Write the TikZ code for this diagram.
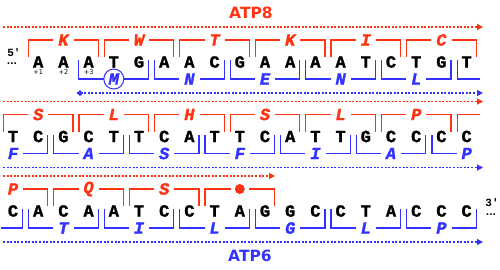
\documentclass[tikz,border=0pt]{standalone}
\usepackage{fontspec}
\setmainfont{Liberation Serif}
\setmonofont{Liberation Mono}
\setsansfont{DejaVu Sans}
\newfontfamily\seqfont[BoldFeatures={FakeBold=1.6},BoldItalicFeatures={FakeBold=1.6}]{Liberation Mono}
\usetikzlibrary{arrows.meta}
\definecolor{atpred}{HTML}{FF3311}
\definecolor{atpblue}{HTML}{3333FF}
\tikzset{
  nt/.style={font=\seqfont\bfseries\fontsize{17}{17}\selectfont, inner sep=0pt},
  aa8/.style={font=\seqfont\bfseries\itshape\fontsize{17}{17}\selectfont, text=atpred, fill=white, inner xsep=5pt, inner ysep=1pt},
  aa6/.style={font=\seqfont\bfseries\itshape\fontsize{17}{17}\selectfont, text=atpblue, fill=white, inner xsep=5pt, inner ysep=1pt},
  br8/.style={draw=atpred, line width=1.2pt},
  br6/.style={draw=atpblue, line width=1.2pt},
  orf8/.style={draw=atpred, line width=1.2pt, dash pattern=on 2pt off 1.6pt, -{Triangle[length=6pt,width=6pt]}},
  orf6/.style={draw=atpblue, line width=1.2pt, dash pattern=on 2pt off 1.6pt, -{Triangle[length=6pt,width=6pt]}},
  gene/.style={font=\sffamily\bfseries\fontsize{15.5}{15.5}\selectfont, inner sep=0pt},
  endlbl/.style={font=\ttfamily\bfseries\fontsize{11}{11}\selectfont, inner sep=0pt},
  enddots/.style={font=\sffamily\bfseries\fontsize{9}{9}\selectfont, inner sep=0pt},
  ntpos/.style={font=\sffamily\fontsize{6.5}{6.5}\selectfont, inner sep=0pt},
}
\begin{document}
\begin{tikzpicture}[x=1pt,y=-1pt]
  \useasboundingbox (0,0) rectangle (500,269);
  \node[gene, text=atpred] (atp8) at (251,13) {ATP8};
  \node[gene, text=atpblue] (atp6) at (250,256) {ATP6};

  % row 1
  \begin{scope}[yshift=-62pt]
    \draw[orf8] (3,-35) -- (483,-35);
    \draw[orf6] (77,31) -- (483,31);
    \fill[atpblue] (77,31) -- (80,28) -- (83,31) -- (80,34) -- cycle;
    \node[endlbl] (five) at (14,-9) {5'};
    \node[enddots] (fivedots) at (12,2) {...};
    \foreach \b [count=\i from 1] in {A,A,A,T,G,A,A,C,G,A,A,A,A,T,C,T,G,T}
      \node[nt] (r1c\i) at ({13+25.2*\i},0) {\b};
    \foreach \i in {1,2,3}
      \node[ntpos] (p\i) at ({13+25.2*\i},10.5) {+\i};
    % ATP8 codons
    \foreach \a/\l in {1/K,4/W,7/T,10/K,13/I,16/C} {
      \pgfmathsetmacro\xl{13+25.2*(\a-0.5)+3}
      \pgfmathsetmacro\xr{13+25.2*(\a+2.5)-3}
      \draw[br8] (\xl,-5) |- (\xr,-22) -- (\xr,-5);
      \node[aa8] (k1-\a) at ({13+25.2*(\a+1)},-22) {\l};
    }
    % ATP6 codons
    \foreach \a/\l in {6/N,9/E,12/N,15/L} {
      \pgfmathsetmacro\xl{13+25.2*(\a-0.5)+3}
      \pgfmathsetmacro\xr{13+25.2*(\a+2.5)-3}
      \draw[br6] (\xl,-2) |- (\xr,17) -- (\xr,-2);
      \node[aa6] (s1-\a) at ({13+25.2*(\a+1)},17) {\l};
    }
    \draw[br6] (78.8,-2) |- (148.6,17) -- (148.6,-2);
    \node[aa6, draw=atpblue, circle, line width=1pt, minimum size=20pt, inner sep=0pt] (met) at (113.8,17) {M};
    \draw[br6] (457.2,-2) |- (480,17);
  \end{scope}

  % row 2
  \begin{scope}[yshift=-136.5pt]
    \draw[orf8] (3,-35) -- (483,-35);
    \draw[orf6] (3,31) -- (483,31);
    \foreach \b [count=\i from 0] in {T,C,G,C,T,T,C,A,T,T,C,A,T,T,G,C,C,C,C}
      \node[nt] (r2c\i) at ({13+25.2*\i},0) {\b};
    % ATP8 codons
    \foreach \a/\l in {0/S,3/L,6/H,9/S,12/L,15/P} {
      \pgfmathsetmacro\xl{13+25.2*(\a-0.5)+3}
      \pgfmathsetmacro\xr{13+25.2*(\a+2.5)-3}
      \draw[br8] (\xl,-5) |- (\xr,-22) -- (\xr,-5);
      \node[aa8] (k2-\a) at ({13+25.2*(\a+1)},-22) {\l};
    }
    \draw[br8] (457.2,-5) |- (480,-22);
    % ATP6 codons
    \draw[br6] (13,17) -| (47.8,-2);
    \node[aa6] (s2-f) at (13,17) {F};
    \foreach \a/\l in {2/A,5/S,8/F,11/I,14/A} {
      \pgfmathsetmacro\xl{13+25.2*(\a-0.5)+3}
      \pgfmathsetmacro\xr{13+25.2*(\a+2.5)-3}
      \draw[br6] (\xl,-2) |- (\xr,17) -- (\xr,-2);
      \node[aa6] (s2-\a) at ({13+25.2*(\a+1)},17) {\l};
    }
    \draw[br6] (432,-2) |- (466.6,17);
    \node[aa6] (s2-p) at (466.6,17) {P};
  \end{scope}

  % row 3
  \begin{scope}[yshift=-211pt]
    \draw[orf8] (3,-35) -- (275,-35);
    \draw[orf6] (3,31) -- (483,31);
    \foreach \b [count=\i from 0] in {C,A,C,A,A,T,C,C,T,A,G,G,C,C,T,A,C,C,C}
      \node[nt] (r3c\i) at ({13+25.2*\i},0) {\b};
    \node[endlbl] (three) at (492,-8) {3'};
    \node[enddots] (threedots) at (491,4) {...};
    % ATP8 codons
    \draw[br8] (13,-22) -| (47.8,-5);
    \node[aa8] (k3-p) at (13,-22) {P};
    \foreach \a/\l in {2/Q,5/S} {
      \pgfmathsetmacro\xl{13+25.2*(\a-0.5)+3}
      \pgfmathsetmacro\xr{13+25.2*(\a+2.5)-3}
      \draw[br8] (\xl,-5) |- (\xr,-22) -- (\xr,-5);
      \node[aa8] (k3-\a) at ({13+25.2*(\a+1)},-22) {\l};
    }
    \draw[br8] (205,-5) |- (274.6,-22) -- (274.6,-5);
    \node[fill=white, minimum width=18pt, minimum height=10pt, inner sep=0pt] (stop) at (239.8,-22) {};
    \fill[atpred] (stop.center) circle (5pt);
    % ATP6 codons
    \draw[br6] (1,17) -| (22.6,-2);
    \foreach \a/\l in {1/T,4/I,7/L,10/G,13/L,16/P} {
      \pgfmathsetmacro\xl{13+25.2*(\a-0.5)+3}
      \pgfmathsetmacro\xr{13+25.2*(\a+2.5)-3}
      \draw[br6] (\xl,-2) |- (\xr,17) -- (\xr,-2);
      \node[aa6] (s3-\a) at ({13+25.2*(\a+1)},17) {\l};
    }
  \end{scope}
\end{tikzpicture}
\end{document}
